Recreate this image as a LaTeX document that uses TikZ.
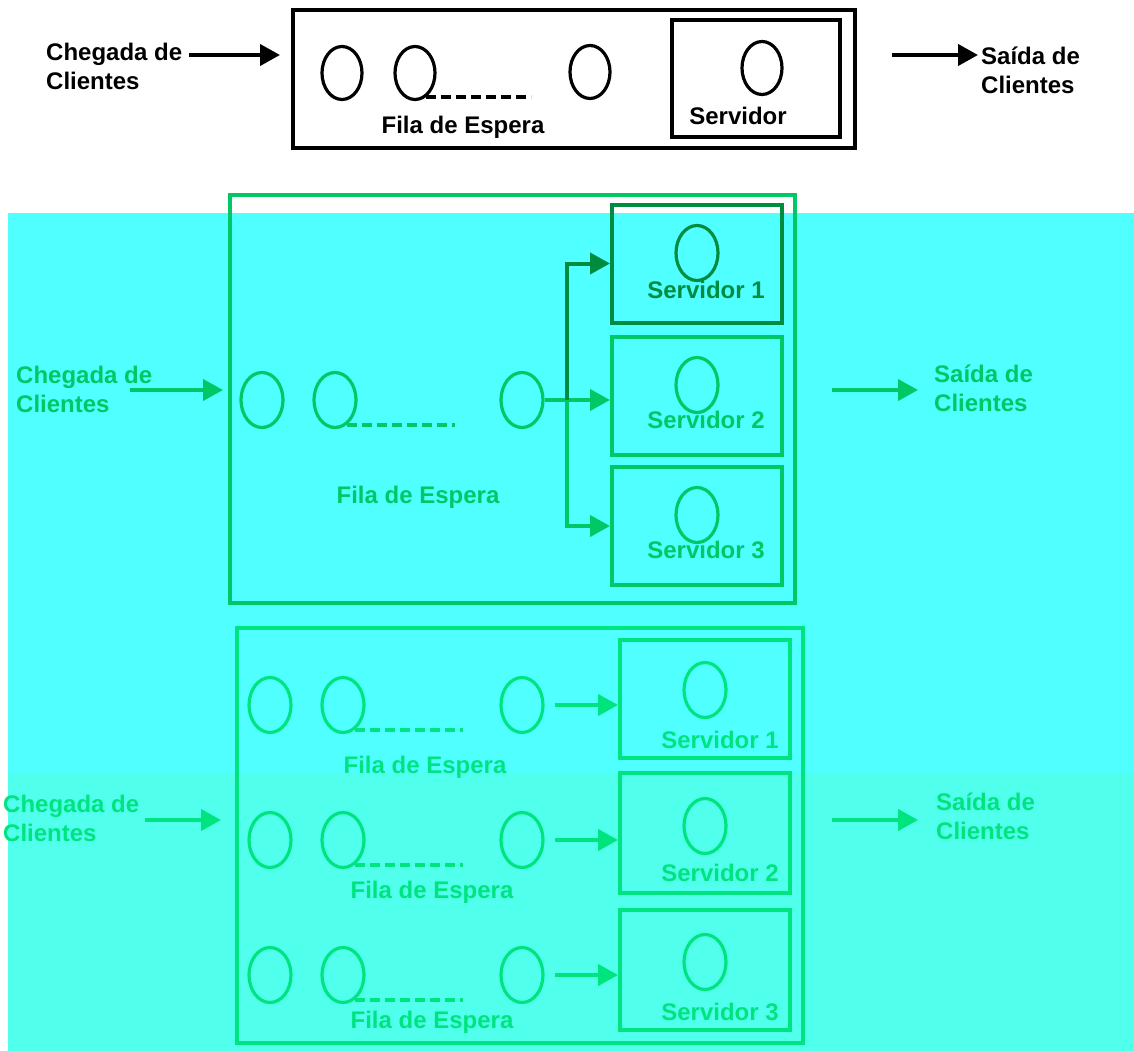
\documentclass[tikz,border=0pt]{standalone}
\usepackage{fontspec}
\setmainfont{Liberation Sans}
\usetikzlibrary{positioning,arrows.meta,shapes.geometric}
\definecolor{ciano}{RGB}{80,255,255}
\definecolor{cianoB}{RGB}{80,255,236}
\definecolor{verde}{RGB}{0,200,100}
\definecolor{verdeC}{RGB}{0,228,128}
\definecolor{verdeEsc}{RGB}{0,140,64}

\begin{document}
\begin{tikzpicture}[x=1pt, y=-1pt,
    cliente/.style={ellipse, draw, line width=3.2pt, minimum width=42pt, minimum height=55pt, inner sep=0pt},
    servidor/.style={rectangle, draw, line width=4pt, minimum width=170pt, minimum height=118pt, inner sep=0pt},
    sistema/.style={rectangle, draw, line width=4pt, inner sep=0pt},
    rotulo/.style={font=\fontsize{24}{29}\selectfont\bfseries, align=left, inner sep=1pt},
    arrow/.style={-{Triangle[length=20pt, width=21pt]}, line width=4pt},
    espera/.style={dash pattern=on 10pt off 5pt, line width=4pt}
]
\useasboundingbox (0,0) rectangle (1134,1051);
\fill[white] (0,0) rectangle (1134,1051);
\fill[ciano] (8,213) rectangle (1134,773);
\fill[cianoB] (8,773) rectangle (1134,1051);

% uma fila, um servidor
\node[sistema, minimum width=562pt, minimum height=138pt] (sistA) at (574,79) {};
\node[servidor, minimum width=168pt, minimum height=117pt] (srvA) at (756,78.5) {};
\node[cliente, minimum width=40pt, minimum height=53pt] (a1) at (342,73) {};
\node[cliente, minimum width=40pt, minimum height=53pt] (a2) at (415,73) {};
\node[cliente, minimum width=40pt, minimum height=53pt] (a3) at (590,72) {};
\node[cliente, minimum width=40pt, minimum height=53pt] (sa) at (762,68) {};
\node[rotulo] (servA) at (738,116) {Servidor};
\node[rotulo] (filaA) at (463,127) {Fila de Espera};
\node[rotulo, anchor=west] (chegA) at (45,66) {Chegada de\\Clientes};
\node[rotulo, anchor=west] (saidaA) at (980,70) {Saída de\\Clientes};
\coordinate (entA) at (280,55);
\coordinate (saiA) at (978,55);
\draw[arrow, shorten <=6pt] (chegA.east |- entA) -- (entA);
\draw[arrow, shorten <=35pt] (sistA.east |- saiA) -- (saiA);
\draw[espera] (a2.-65) -- ++(105,0);

% uma fila, tres servidores
\begin{scope}[verde]
\node[sistema, draw=verde, minimum width=565pt, minimum height=408pt] (sistB) at (512.5,399) {};
\node[servidor, draw=verdeEsc] (srvB1) at (697,263.5) {};
\node[servidor] (srvB2) at (697,396) {};
\node[servidor] (srvB3) at (697,526) {};
\node[cliente, draw=verdeEsc] (sb1) at (697,253) {};
\node[cliente] (sb2) at (697,385) {};
\node[cliente] (sb3) at (697,515) {};
\node[rotulo, verdeEsc] (servB1) at (706,290) {Servidor 1};
\node[rotulo] (servB2) at (706,420) {Servidor 2};
\node[rotulo] (servB3) at (706,550) {Servidor 3};
\node[cliente] (b1) at (262,400) {};
\node[cliente] (b2) at (335,400) {};
\node[cliente] (b3) at (522,400) {};
\node[rotulo] (filaB) at (418,497) {Fila de Espera};
\node[rotulo, anchor=west] (chegB) at (15,389) {Chegada de\\Clientes};
\node[rotulo, anchor=west] (saidaB) at (933,388) {Saída de\\Clientes};
\coordinate (entB) at (130,390);
\coordinate (saiB) at (918,390);
\coordinate (ramoB) at (567,400);
\draw[arrow, shorten >=5pt] (entB) -- (sistB.west |- entB);
\draw[arrow, shorten <=35pt] (sistB.east |- saiB) -- (saiB);
\draw[espera] (b2.-65) -- ++(108,0);
\draw[line width=4pt] (b3.east) -- (ramoB);
\draw[arrow] (ramoB) -- (srvB2.west |- ramoB);
\draw[arrow] (ramoB) |- (srvB3.west);
\draw[arrow, verdeEsc] (ramoB) |- (srvB1.west);
\end{scope}

% tres filas, tres servidores
\begin{scope}[verdeC]
\node[sistema, draw=verdeC, minimum width=566pt, minimum height=415pt] (sistC) at (520,835.5) {};
\node[servidor] (srvC1) at (705,699) {};
\node[servidor, minimum height=120pt] (srvC2) at (705,833) {};
\node[servidor, minimum height=120pt] (srvC3) at (705,970) {};
\node[cliente] (sc1) at (705,690) {};
\node[cliente] (sc2) at (705,826) {};
\node[cliente] (sc3) at (705,962) {};
\node[rotulo] (servC1) at (720,740) {Servidor 1};
\node[rotulo] (servC2) at (720,873) {Servidor 2};
\node[rotulo] (servC3) at (720,1012) {Servidor 3};
\foreach \r/\y in {1/705, 2/840, 3/975} {
  \node[cliente] (c\r1) at (270,\y) {};
  \node[cliente] (c\r2) at (343,\y) {};
  \node[cliente] (c\r3) at (522,\y) {};
  \draw[espera] (c\r2.-65) -- ++(108,0);
  \draw[arrow, shorten <=10pt] (c\r3.east) -- (srvC\r.west |- c\r3.east);
}
\node[rotulo] (filaC1) at (425,767) {Fila de Espera};
\node[rotulo] (filaC2) at (432,892) {Fila de Espera};
\node[rotulo] (filaC3) at (432,1022) {Fila de Espera};
\node[rotulo, anchor=west] (chegC) at (2,818) {Chegada de\\Clientes};
\node[rotulo, anchor=west] (saidaC) at (935,816) {Saída de\\Clientes};
\coordinate (entC) at (145,820);
\coordinate (saiC) at (918,820);
\draw[arrow, shorten >=14pt] (entC) -- (sistC.west |- entC);
\draw[arrow, shorten <=27pt] (sistC.east |- saiC) -- (saiC);
\end{scope}
\end{tikzpicture}
\end{document}
